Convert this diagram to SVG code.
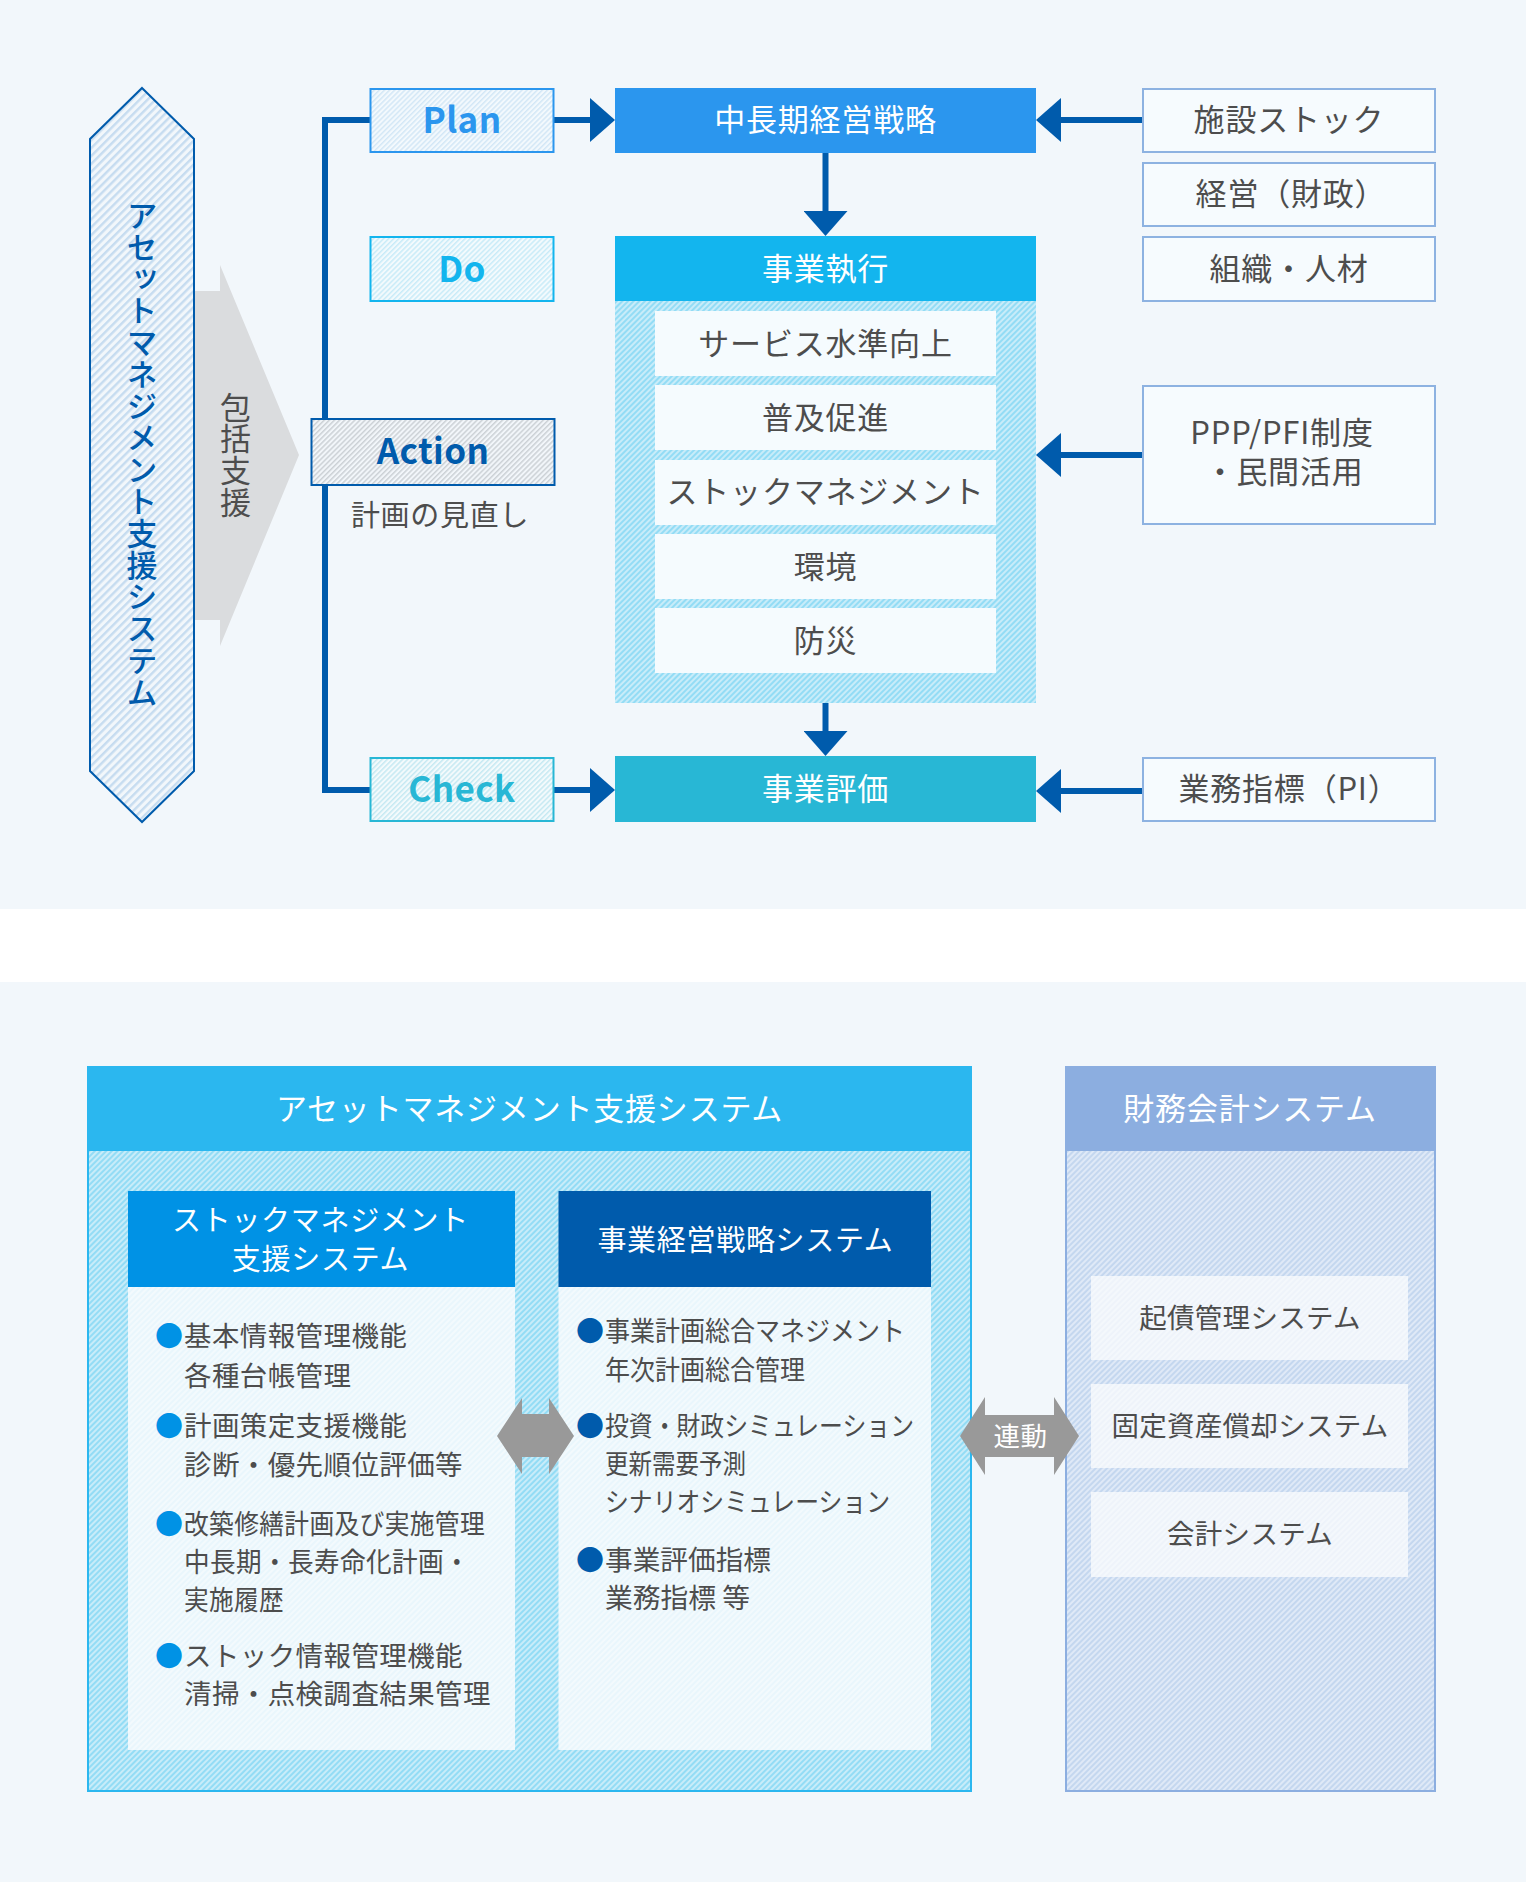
<svg xmlns="http://www.w3.org/2000/svg" width="1526" height="1882" viewBox="0 0 1526 1882">
<defs>
<style>
text{font-family:"Noto Sans CJK JP","Noto Sans",sans-serif;fill:#4d4d4d;text-anchor:middle;font-size:31px;letter-spacing:.8px}
.w{fill:#fff}
.lat{font-weight:700;font-size:35px;letter-spacing:.4px}
.li{text-anchor:start;font-size:27.500px;letter-spacing:.4px}
.lr{text-anchor:start;font-size:27px;letter-spacing:0}
.bl{text-anchor:start;font-size:28px;letter-spacing:0;fill:#0092e5}
.br{text-anchor:start;font-size:28px;letter-spacing:0;fill:#005bac}
.fi{font-size:27.500px;letter-spacing:.3px}
.hd{font-size:29px;letter-spacing:.7px}
.v{writing-mode:vertical-rl}
.side{fill:#f6fbfe;stroke:#8db2e1;stroke-width:2}
.conn{fill:none;stroke:#005bac;stroke-width:6}
</style>
<pattern id="hPlan" width="3.6" height="3.6" patternUnits="userSpaceOnUse" patternTransform="rotate(45)"><rect width="3.6" height="3.6" fill="#f3f9fd"/><rect width="1.500" height="3.6" fill="#d3e7f6"/></pattern>
<pattern id="hDo" width="3.6" height="3.6" patternUnits="userSpaceOnUse" patternTransform="rotate(45)"><rect width="3.6" height="3.6" fill="#f3fafd"/><rect width="1.500" height="3.6" fill="#c8ebf8"/></pattern>
<pattern id="hCheck" width="3.6" height="3.6" patternUnits="userSpaceOnUse" patternTransform="rotate(45)"><rect width="3.6" height="3.6" fill="#f3fafc"/><rect width="1.500" height="3.6" fill="#c6e9f2"/></pattern>
<pattern id="hAction" width="3.6" height="3.6" patternUnits="userSpaceOnUse" patternTransform="rotate(45)"><rect width="3.6" height="3.6" fill="#f2f6fa"/><rect width="1.500" height="3.6" fill="#ccd1d6"/></pattern>
<pattern id="hHex" width="5.6" height="5.6" patternUnits="userSpaceOnUse" patternTransform="rotate(45)"><rect width="5.6" height="5.6" fill="#f2f7fb"/><rect width="2.4" height="5.6" fill="#c6dcf0"/></pattern>
<pattern id="hCyan" width="4" height="4" patternUnits="userSpaceOnUse" patternTransform="rotate(45)"><rect width="4" height="4" fill="#c8ecf9"/><rect width="2" height="4" fill="#93dcf5"/></pattern>
<pattern id="hPale" width="4" height="4" patternUnits="userSpaceOnUse" patternTransform="rotate(45)"><rect width="4" height="4" fill="#f3fafd"/><rect width="2" height="4" fill="#e9f6fc"/></pattern>
<pattern id="hFin" width="4" height="4" patternUnits="userSpaceOnUse" patternTransform="rotate(45)"><rect width="4" height="4" fill="#dfe9f7"/><rect width="2" height="4" fill="#c4d7ef"/></pattern>
<pattern id="hFinPale" width="4" height="4" patternUnits="userSpaceOnUse" patternTransform="rotate(45)"><rect width="4" height="4" fill="#f4f8fc"/><rect width="2" height="4" fill="#eef3fa"/></pattern>
<marker id="ah" markerUnits="userSpaceOnUse" markerWidth="26" markerHeight="44" refX="0" refY="22" orient="auto"><path d="M0 0L25 22L0 44Z" fill="#005bac"/></marker>
</defs>
<rect width="1526" height="1882" fill="#fff"/>
<rect width="1526" height="909" fill="#f2f7fb"/>
<rect y="982" width="1526" height="900" fill="#f2f7fb"/>

<g id="connectors">
<path class="conn" d="M370 120H325V790H370"/>
<path class="conn" d="M553 120H590" marker-end="url(#ah)"/>
<path class="conn" d="M553 790H590" marker-end="url(#ah)"/>
<path class="conn" d="M1142 120H1061" marker-end="url(#ah)"/>
<path class="conn" d="M1142 455H1061" marker-end="url(#ah)"/>
<path class="conn" d="M1142 791H1061" marker-end="url(#ah)"/>
<path class="conn" d="M825.500 152V211" marker-end="url(#ah)"/>
<path class="conn" d="M825.500 703V731" marker-end="url(#ah)"/>
</g>

<g id="support-arrow"><polygon points="194,291 220,291 220,265 299,455 220,646 220,620 194,620" fill="#dadcde"/><text class="v" x="235.500" y="455">包括支援</text></g>
<g id="am-hex"><polygon points="142,88 194,139 194,771 142,822 90,771 90,139" fill="url(#hHex)" stroke="#005bac" stroke-width="2"/><text class="v" x="142" y="454" style="fill:#005bac;font-weight:500">アセットマネジメント支援システム</text></g>

<g id="plan"><rect x="370.500" y="89" width="183" height="63" fill="url(#hPlan)" stroke="#2b96ee" stroke-width="2"/><text class="lat" x="462" y="133" style="fill:#2b96ee">Plan</text></g>
<g id="do"><rect x="370.500" y="237" width="183" height="64" fill="url(#hDo)" stroke="#13b5ee" stroke-width="2"/><text class="lat" x="462" y="282" style="fill:#13b5ee">Do</text></g>
<g id="action"><rect x="311.500" y="419" width="243" height="66" fill="url(#hAction)" stroke="#005bac" stroke-width="2"/><text class="lat" x="433" y="464" style="fill:#005bac">Action</text><text x="440" y="526" style="font-size:29px;letter-spacing:.7px">計画の見直し</text></g>
<g id="check"><rect x="370.500" y="758" width="183" height="63" fill="url(#hCheck)" stroke="#28b7d5" stroke-width="2"/><text class="lat" x="462" y="802" style="fill:#28b7d5">Check</text></g>

<g id="strategy"><rect x="615" y="88" width="421" height="65" fill="#2b96ee"/><text class="w" x="825.500" y="131">中長期経営戦略</text></g>
<g id="execution"><rect x="615" y="301" width="421" height="402" fill="url(#hCyan)"/><rect x="615" y="236" width="421" height="65" fill="#13b5ee"/><text class="w" x="825.500" y="280">事業執行</text></g>
<g id="item1"><rect x="655" y="311" width="341" height="65" fill="#f5fbfe"/><text x="825.500" y="355">サービス水準向上</text></g>
<g id="item2"><rect x="655" y="385" width="341" height="65" fill="#f5fbfe"/><text x="825.500" y="429">普及促進</text></g>
<g id="item3"><rect x="655" y="460" width="341" height="65" fill="#f5fbfe"/><text x="825.500" y="503">ストックマネジメント</text></g>
<g id="item4"><rect x="655" y="534" width="341" height="65" fill="#f5fbfe"/><text x="825.500" y="578">環境</text></g>
<g id="item5"><rect x="655" y="608" width="341" height="65" fill="#f5fbfe"/><text x="825.500" y="652">防災</text></g>
<g id="evaluation"><rect x="615" y="756" width="421" height="66" fill="#28b7d5"/><text class="w" x="825.500" y="800">事業評価</text></g>

<g id="side1"><rect class="side" x="1143" y="89" width="292" height="63"/><text x="1289" y="131">施設ストック</text></g>
<g id="side2"><rect class="side" x="1143" y="163" width="292" height="63"/><text x="1291" y="205">経営（財政）</text></g>
<g id="side3"><rect class="side" x="1143" y="237" width="292" height="64"/><text x="1289" y="280">組織・人材</text></g>
<g id="side4"><rect class="side" x="1143" y="386" width="292" height="138"/><text><tspan x="1282" y="444">PPP/PFI制度</tspan><tspan x="1284" y="483">・民間活用</tspan></text></g>
<g id="side5"><rect class="side" x="1143" y="758" width="292" height="63"/><text x="1289" y="800">業務指標（PI）</text></g>

<g id="am-system"><rect x="88" y="1067" width="883" height="724" fill="url(#hCyan)" stroke="#2bb7ef" stroke-width="2"/><rect x="87" y="1066" width="885" height="85" fill="#2bb7ef"/><text class="w" x="529.500" y="1120">アセットマネジメント支援システム</text></g>
<g id="stock-system"><rect x="128" y="1287" width="387" height="463" fill="url(#hPale)"/><rect x="128" y="1191" width="387" height="96" fill="#0092e5"/><text class="w hd" x="320.500" y="1231">ストックマネジメント</text><text class="w hd" x="320.500" y="1270">支援システム</text>
<text class="bl" x="155" y="1347">●</text><text class="li" x="184" y="1346">基本情報管理機能</text><text class="li" x="184" y="1386">各種台帳管理</text>
<text class="bl" x="155" y="1437">●</text><text class="li" x="184" y="1436">計画策定支援機能</text><text class="li" x="184" y="1475">診断・優先順位評価等</text>
<text class="bl" x="155" y="1535">●</text><text class="li" x="184" y="1534" textLength="301" lengthAdjust="spacingAndGlyphs">改築修繕計画及び実施管理</text><text class="li" x="184" y="1572" textLength="286" lengthAdjust="spacingAndGlyphs">中長期・長寿命化計画・</text><text class="li" x="184" y="1610" textLength="100" lengthAdjust="spacingAndGlyphs">実施履歴</text>
<text class="bl" x="155" y="1667">●</text><text class="li" x="184" y="1666">ストック情報管理機能</text><text class="li" x="184" y="1704">清掃・点検調査結果管理</text></g>
<g id="mgmt-system"><rect x="558.500" y="1287" width="372.500" height="463" fill="url(#hPale)"/><rect x="558.500" y="1191" width="372.500" height="96" fill="#005bac"/><text class="w hd" x="745.500" y="1251">事業経営戦略システム</text>
<text class="br" x="576" y="1342">●</text><text class="lr" x="605" y="1341" textLength="300" lengthAdjust="spacingAndGlyphs">事業計画総合マネジメント</text><text class="lr" x="605" y="1380" textLength="200" lengthAdjust="spacingAndGlyphs">年次計画総合管理</text>
<text class="br" x="576" y="1437">●</text><text class="lr" x="605" y="1436" textLength="309" lengthAdjust="spacingAndGlyphs">投資・財政シミュレーション</text><text class="lr" x="605" y="1474" textLength="141" lengthAdjust="spacingAndGlyphs">更新需要予測</text><text class="lr" x="605" y="1512" textLength="285" lengthAdjust="spacingAndGlyphs">シナリオシミュレーション</text>
<text class="br" x="576" y="1571">●</text><text class="lr" x="605" y="1570" textLength="166" lengthAdjust="spacingAndGlyphs">事業評価指標</text><text class="lr" x="605" y="1608" textLength="145" lengthAdjust="spacingAndGlyphs">業務指標 等</text></g>
<g id="fin-system"><rect x="1066" y="1067" width="369" height="724" fill="url(#hFin)" stroke="#8caee0" stroke-width="2"/><rect x="1065" y="1066" width="371" height="85" fill="#8caee0"/><text class="w" x="1250" y="1120">財務会計システム</text></g>
<g id="fin1"><rect x="1091" y="1276" width="317" height="84" fill="url(#hFinPale)"/><text class="fi" x="1250" y="1328">起債管理システム</text></g>
<g id="fin2"><rect x="1091" y="1384" width="317" height="84" fill="url(#hFinPale)"/><text class="fi" x="1250" y="1436">固定資産償却システム</text></g>
<g id="fin3"><rect x="1091" y="1492" width="317" height="85" fill="url(#hFinPale)"/><text class="fi" x="1250" y="1544">会計システム</text></g>

<g id="link-arrow"><polygon points="497,1436 522,1398 522,1414 549,1414 549,1398 574,1436 549,1474 549,1457 522,1457 522,1474" fill="#999"/></g>
<g id="renkei-arrow"><polygon points="960,1436 985,1397 985,1415 1054,1415 1054,1397 1079,1436 1054,1475 1054,1457 985,1457 985,1475" fill="#999"/><text class="w" x="1020.500" y="1446" style="font-size:26.500px;letter-spacing:.6px">連動</text></g>
</svg>
